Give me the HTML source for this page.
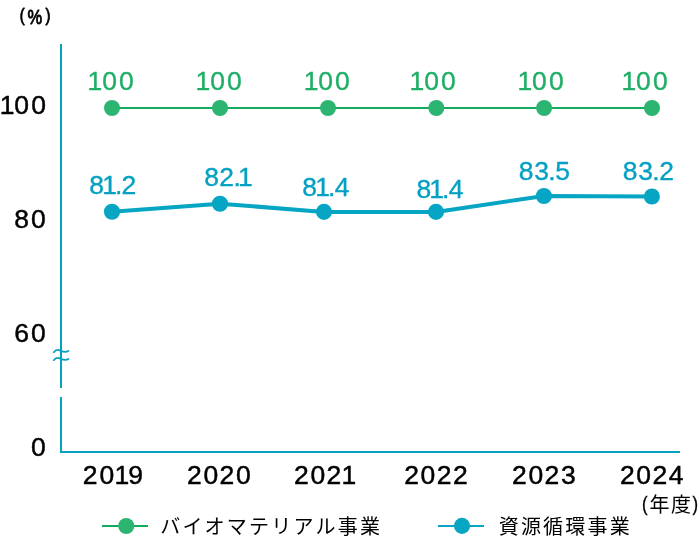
<!DOCTYPE html>
<html lang="ja">
<head>
<meta charset="utf-8">
<title>Chart</title>
<style>
html,body{margin:0;padding:0;background:#fff;}
body{width:700px;height:542px;overflow:hidden;}
svg{display:block;will-change:transform;}
text{font-family:"Liberation Sans",sans-serif;stroke-linejoin:round;}
.n{stroke-width:.35px;}
.k{stroke-width:.45px;}
.j{font-family:"Liberation Sans","Noto Sans CJK JP",sans-serif;}
</style>
</head>
<body>
<svg width="700" height="542" viewBox="0 0 700 542">
<!-- axes -->
<g fill="#03a2bf"><rect x="60" y="44" width="2" height="344"/><rect x="60" y="397" width="2" height="56"/><rect x="60" y="451" width="620" height="2"/></g>
<g fill="none" stroke="#03a2bf" stroke-width="1.7" stroke-linecap="round"><path d="M53.8 352.2C55 350.4 57.4 349.3 60 350.4S64.6 353 68.5 351"/><path d="M53.8 360.2C55 358.4 57.4 357.3 60 358.4S64.6 361 68.5 359"/></g>
<!-- series -->
<polyline fill="none" stroke="#12aa5d" stroke-width="2" points="112,108 220,108 328,108 436.3,108 544.1,108 652,108"/>
<g fill="#2cb471"><circle cx="112" cy="108" r="8"/><circle cx="220" cy="108" r="8"/><circle cx="328" cy="108" r="8"/><circle cx="436.3" cy="108" r="8"/><circle cx="544.1" cy="108" r="8"/><circle cx="652" cy="108" r="8"/></g>
<polyline fill="none" stroke="#05a5c3" stroke-width="4" stroke-linejoin="round" points="112,211.8 220,203.7 324,211.9 436,211.9 543.9,196 651.9,196.5"/>
<g fill="#05a5c3"><circle cx="112" cy="211.8" r="8.05"/><circle cx="220" cy="203.7" r="8.05"/><circle cx="324" cy="211.9" r="8.05"/><circle cx="436" cy="211.9" r="8.05"/><circle cx="543.9" cy="196" r="8.05"/><circle cx="651.9" cy="196.5" r="8.05"/></g>
<!-- y axis labels -->
<g class="k" fill="#000" stroke="#000" font-size="25">
<text transform="translate(0 113.7) scale(1.06 1)" x="-0.36 13.57 29.42">100</text>
<text transform="translate(0 227.7) scale(1.06 1)" x="13.42 29.37">80</text>
<text transform="translate(0 341.7) scale(1.06 1)" x="13.34 29.37">60</text>
<text transform="translate(0 455.7) scale(1.06 1)" x="29.27">0</text>
<!-- x axis labels -->
<text transform="translate(0 483.6) scale(1.06 1)" x="78.19 93.76 107.99 121.07">2019</text>
<text transform="translate(0 483.6) scale(1.06 1)" x="176.4 191.87 207.1 222.72">2020</text>
<text transform="translate(0 483.6) scale(1.06 1)" x="277.34 292.81 308.05 322.24">2021</text>
<text transform="translate(0 483.6) scale(1.06 1)" x="381.4 396.77 412.1 427.25">2022</text>
<text transform="translate(0 483.6) scale(1.06 1)" x="483 498.47 513.71 529.35">2023</text>
<text transform="translate(0 483.6) scale(1.06 1)" x="584.89 600.36 615.59 631">2024</text>
</g>
<!-- data labels -->
<g class="n" fill="#1fae66" stroke="#1fae66" font-size="25">
<text transform="translate(0 89.7) scale(1.06 1)" x="82.66 96.35 112.25">100</text>
<text transform="translate(0 89.7) scale(1.06 1)" x="184.55 198.24 214.13">100</text>
<text transform="translate(0 89.7) scale(1.06 1)" x="286.53 300.22 316.11">100</text>
<text transform="translate(0 89.7) scale(1.06 1)" x="386.44 400.12 416.02">100</text>
<text transform="translate(0 89.7) scale(1.06 1)" x="488.32 502.01 517.91">100</text>
<text transform="translate(0 89.7) scale(1.06 1)" x="586.44 600.12 616.02">100</text>
</g>
<g class="n" fill="#05a1c2" stroke="#05a1c2" font-size="25">
<text transform="translate(0 193.8) scale(1.06 1)" x="84.09 96.58 108.6 114.56">81.2</text>
<text transform="translate(0 186.1) scale(1.06 1)" x="192.58 206.73 220.21 224.46">82.1</text>
<text transform="translate(0 195.6) scale(1.06 1)" x="285.26 297.52 309.55 315.77">81.4</text>
<text transform="translate(0 197.5) scale(1.06 1)" x="392.81 405.07 417.09 423.32">81.4</text>
<text transform="translate(0 179.9) scale(1.06 1)" x="489.42 503.97 517.19 523.73">83.5</text>
<text transform="translate(0 179.8) scale(1.06 1)" x="587.53 602.08 615.3 621.96">83.2</text>
</g>
<!-- unit labels -->
<text transform="translate(0 21.3) scale(.8 1)" fill="#000" stroke="#000" style="stroke-width:.9px"><tspan x="24.6" font-size="18.4">(</tspan><tspan x="34.4" dy="2.4" font-size="20.6">%</tspan><tspan x="56.8" dy="-2.4" font-size="18.4">)</tspan></text>
<text x="641.9" y="510.9" class="n" font-size="19.6" fill="#000" stroke="#000" transform="translate(641.9 0) scale(.85 1) translate(-641.9 0)">(</text>
<text class="j" y="512.2" x="649.6 671" font-size="20" fill="#000">年度</text>
<text x="692.6" y="510.9" class="n" font-size="19.6" fill="#000" stroke="#000" transform="translate(692.6 0) scale(.85 1) translate(-692.6 0)">)</text>
<!-- legend -->
<rect x="102" y="525" width="46" height="2" fill="#12aa5d"/><circle cx="126.25" cy="525.95" r="8.05" fill="#2cb471"/>
<text class="j" y="533.7" x="160.2 182.4 204.6 226.8 249 271.2 293.4 315.6 337.8 360" font-size="20" fill="#000">バイオマテリアル事業</text>
<rect x="438" y="525" width="46" height="2" fill="#05a5c3"/><circle cx="462" cy="525.9" r="8.05" fill="#05a5c3"/>
<text class="j" y="533.7" x="498.7 520.9 543.1 565.3 587.5 609.7" font-size="20" fill="#000">資源循環事業</text>
</svg>
</body>
</html>
